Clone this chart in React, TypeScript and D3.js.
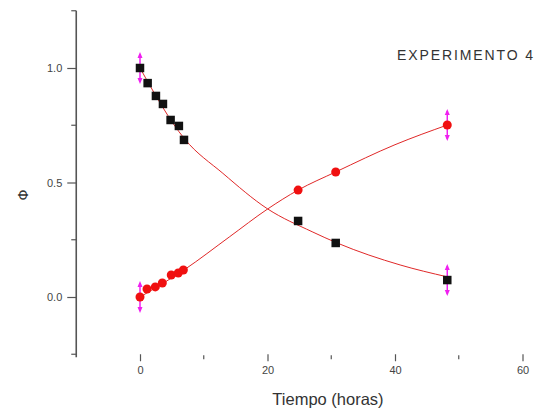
import React, { useEffect, useRef } from "react";
import * as d3 from "d3";

// Measured fractions Φ over time (hours)
const decayTimes = [0, 1.2, 2.5, 3.6, 4.8, 6.1, 6.9, 24.8, 30.7, 48.2];
const decayValues = [1.0, 0.934, 0.878, 0.843, 0.773, 0.747, 0.686, 0.332, 0.236, 0.074];
const decayErrors = [0.07, 0, 0, 0, 0, 0, 0, 0, 0, 0.07];

const riseTimes = [0, 1.1, 2.4, 3.5, 4.9, 6.0, 6.8, 24.8, 30.7, 48.2];
const riseValues = [0.0, 0.035, 0.044, 0.061, 0.096, 0.105, 0.118, 0.467, 0.546, 0.751];
const riseErrors = [0.07, 0, 0, 0, 0, 0, 0, 0, 0, 0.07];

// Fitted trend curves
const decayFitTimes = [0, 7, 13, 20, 27, 31, 40.8, 48.2];
const decayFitValues = [1.0, 0.69, 0.54, 0.385, 0.285, 0.235, 0.14, 0.088];
const riseFitTimes = [0, 7, 14, 20, 24.8, 30.7, 40, 48.2];
const riseFitValues = [0.0, 0.12, 0.262, 0.384, 0.467, 0.546, 0.665, 0.751];

const xMajorTicks = [0, 20, 40, 60];
const xMinorTicks = [10, 30, 50];
const yMajorTicks = [0.0, 0.5, 1.0];
const yMinorTicks = [-0.25, 0.25, 0.75, 1.25];

const title = "EXPERIMENTO 4";
const xLabel = "Tiempo (horas)";
const yLabel = "Φ";

const W = 550;
const H = 418;

export default function App() {
  const ref = useRef<SVGSVGElement>(null);

  useEffect(() => {
    const svg = d3.select(ref.current);
    svg.selectAll("*").remove();

    const x = d3.scaleLinear().domain([-10, 60]).range([76.25, 522.5]);
    const y = d3.scaleLinear().domain([-0.25, 1.25]).range([354.25, 10.75]);
    const axisColor = "#555";
    const font = "'Liberation Sans', Arial, sans-serif";

    // Y axis with major and minor ticks
    const yAxis = svg.append("g").attr("transform", `translate(${x(-10)},0)`);
    yAxis
      .call(
        d3
          .axisLeft(y)
          .tickValues(yMajorTicks)
          .tickSize(9)
          .tickSizeOuter(0)
          .tickPadding(5)
          .tickFormat(d3.format(".1f"))
      );
    yAxis.select(".domain").attr("stroke", axisColor).attr("stroke-width", 1.6)
      .attr("d", `M0,${y(1.25)}V${y(-0.25) + 3}`);
    yAxis.selectAll(".tick line").attr("stroke", axisColor).attr("stroke-width", 1.2);
    yAxis.selectAll(".tick text").attr("fill", "#444").attr("font-size", 11).attr("font-family", font);
    yAxis
      .selectAll(".minor")
      .data(yMinorTicks)
      .join("line")
      .attr("x1", -5)
      .attr("x2", 0)
      .attr("y1", (d) => y(d))
      .attr("y2", (d) => y(d))
      .attr("stroke", axisColor)
      .attr("stroke-width", 1.2);

    // X axis: ticks and labels only, no baseline
    const xAxis = svg.append("g").attr("transform", `translate(0,${y(-0.25)})`);
    xAxis.call(
      d3.axisBottom(x).tickValues(xMajorTicks).tickSize(7).tickSizeOuter(0).tickPadding(5)
    );
    xAxis.select(".domain").remove();
    xAxis.selectAll(".tick line").attr("stroke", axisColor).attr("stroke-width", 1.2);
    xAxis.selectAll(".tick text").attr("fill", "#444").attr("font-size", 11).attr("font-family", font);
    xAxis
      .selectAll(".minor")
      .data(xMinorTicks)
      .join("line")
      .attr("x1", (d) => x(d))
      .attr("x2", (d) => x(d))
      .attr("y1", 1)
      .attr("y2", 5)
      .attr("stroke", axisColor)
      .attr("stroke-width", 1.2);

    // Axis titles
    svg
      .append("text")
      .attr("x", 328)
      .attr("y", 405)
      .attr("text-anchor", "middle")
      .attr("font-size", 16.5)
      .attr("font-family", font)
      .attr("fill", "#333")
      .text(xLabel);
    svg
      .append("text")
      .attr("transform", "translate(28,195) rotate(-90)")
      .attr("text-anchor", "middle")
      .attr("font-size", 14)
      .attr("font-family", "'DejaVu Sans', sans-serif")
      .attr("fill", "#333")
      .text(yLabel);

    svg
      .append("text")
      .attr("x", 397)
      .attr("y", 60)
      .attr("font-size", 14)
      .attr("letter-spacing", 1.9)
      .attr("font-family", font)
      .attr("fill", "#333")
      .text(title);

    // Fitted curves
    const fitLine = d3
      .line<[number, number]>()
      .x((d) => x(d[0]))
      .y((d) => y(d[1]))
      .curve(d3.curveMonotoneX);
    const fits = [
      d3.zip(decayFitTimes, decayFitValues) as [number, number][],
      d3.zip(riseFitTimes, riseFitValues) as [number, number][],
    ];
    svg
      .append("g")
      .selectAll("path")
      .data(fits)
      .join("path")
      .attr("d", (d) => fitLine(d))
      .attr("fill", "none")
      .attr("stroke", "#e02828")
      .attr("stroke-width", 1);

    // Error bars with arrow heads
    const errG = svg.append("g");
    const errColor = "#f020f0";
    const drawErr = (ts: number[], vs: number[], es: number[]) => {
      ts.forEach((t, i) => {
        const e = es[i];
        if (!e) return;
        const cx = x(t);
        const top = y(vs[i] + e);
        const bot = y(vs[i] - e);
        errG
          .append("line")
          .attr("x1", cx)
          .attr("x2", cx)
          .attr("y1", top + 2)
          .attr("y2", bot - 2)
          .attr("stroke", errColor)
          .attr("stroke-width", 1.5);
        errG
          .append("path")
          .attr("d", `M${cx},${top}L${cx - 2.5},${top + 6}L${cx + 2.5},${top + 6}Z`)
          .attr("fill", errColor);
        errG
          .append("path")
          .attr("d", `M${cx},${bot}L${cx - 2.5},${bot - 6}L${cx + 2.5},${bot - 6}Z`)
          .attr("fill", errColor);
      });
    };
    drawErr(decayTimes, decayValues, decayErrors);
    drawErr(riseTimes, riseValues, riseErrors);

    // Markers
    const sq = 8.5;
    svg
      .append("g")
      .selectAll("rect")
      .data(d3.zip(decayTimes, decayValues))
      .join("rect")
      .attr("x", (d) => x(d[0]) - sq / 2)
      .attr("y", (d) => y(d[1]) - sq / 2)
      .attr("width", sq)
      .attr("height", sq)
      .attr("fill", "#111");
    svg
      .append("g")
      .selectAll("circle")
      .data(d3.zip(riseTimes, riseValues))
      .join("circle")
      .attr("cx", (d) => x(d[0]))
      .attr("cy", (d) => y(d[1]))
      .attr("r", 4.5)
      .attr("fill", "#f01010");
  }, []);

  return (
    <svg
      ref={ref}
      width={W}
      height={H}
      style={{ position: "absolute", left: 0, top: 0, background: "#fff" }}
    />
  );
}
